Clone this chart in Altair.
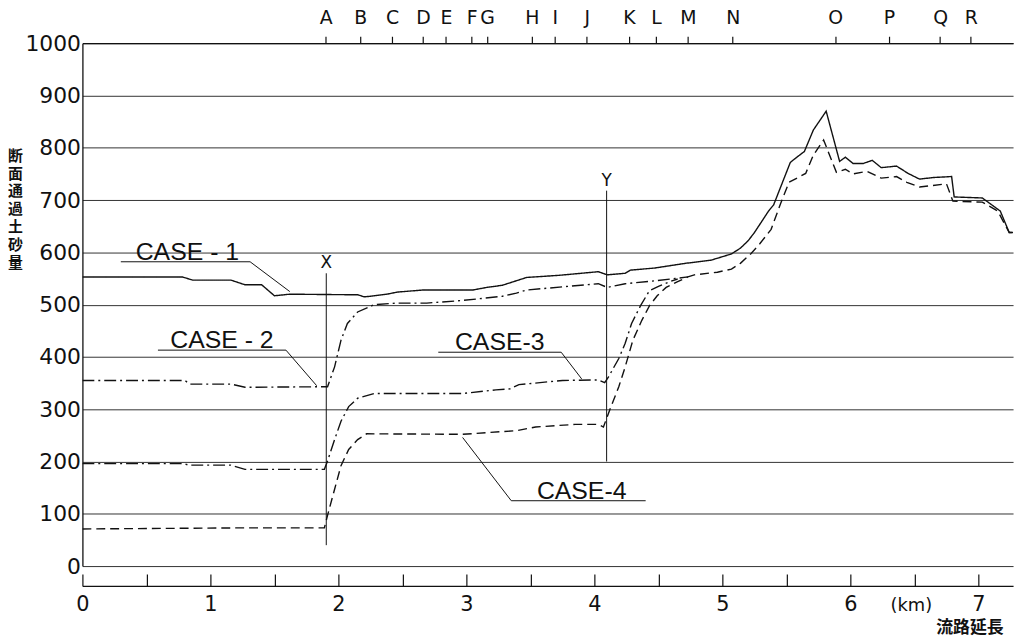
import altair as alt
import pandas as pd

# ---------------- data ----------------
case_names = ["CASE-1", "CASE-2", "CASE-3", "CASE-4"]

km1 = [0, 0.78, 0.86, 1.16, 1.27, 1.40, 1.50, 1.62, 2.07, 2.15, 2.20, 2.25, 2.38, 2.46,
       2.66, 3.05, 3.16, 3.28, 3.47, 3.72, 4.03, 4.10, 4.24, 4.28, 4.47, 4.71, 4.91,
       5.07, 5.14, 5.20, 5.25, 5.36, 5.40, 5.53, 5.56, 5.64, 5.71, 5.81, 5.915, 5.96,
       6.02, 6.10, 6.17, 6.24, 6.36, 6.45, 6.54, 6.64, 6.79, 6.81, 7.03, 7.17, 7.24, 7.27]
v1 = [553, 553, 547, 547, 538, 538, 517, 520, 519, 519, 515, 516, 520, 524,
      528, 528, 533, 537, 552, 556, 563, 557, 560, 566, 570, 579, 585,
      597, 608, 622, 638, 679, 691, 772, 778, 793, 834, 870, 774, 782,
      770, 770, 776, 762, 765, 751, 740, 743, 745, 706, 704, 679, 638, 638]

km2 = [0, 0.80, 0.84, 1.16, 1.27, 1.89, 1.915, 1.97, 2.02, 2.07, 2.15, 2.28, 2.46,
       2.69, 2.97, 3.28, 3.39, 3.47, 4.03, 4.10, 4.24, 4.45, 4.63, 4.73]
v2 = [355, 355, 348, 348, 342, 343, 343, 381, 432, 464, 486, 500, 503,
      503, 508, 516, 522, 528, 540, 533, 540, 545, 550, 553]

km3 = [0, 0.79, 0.83, 1.16, 1.27, 1.89, 1.915, 1.97, 2.02, 2.08, 2.15, 2.28, 2.97,
       3.23, 3.34, 3.41, 3.75, 4.03, 4.08, 4.11, 4.19, 4.24, 4.29, 4.36, 4.43, 4.50,
       4.60, 4.65]
v3 = [196, 196, 193, 193, 185, 185, 201, 242, 277, 305, 321, 330, 330,
      337, 339, 347, 355, 356, 351, 362, 397, 426, 464, 498, 527, 535,
      545, 549]

km4 = [0, 1.20, 1.89, 1.915, 1.97, 2.02, 2.08, 2.15, 2.22, 2.97, 3.39, 3.54, 3.85,
       4.03, 4.07, 4.12, 4.19, 4.24, 4.30, 4.37, 4.43, 4.49, 4.56, 4.65, 4.73, 4.78,
       4.96, 5.07, 5.14, 5.22, 5.29, 5.38, 5.455, 5.52, 5.65, 5.71, 5.79, 5.89, 5.96,
       6.02, 6.13, 6.24, 6.36, 6.44, 6.54, 6.75, 6.80, 7.03, 7.15, 7.24, 7.27]
v4 = [71, 73, 73, 97, 147, 192, 223, 242, 253, 252, 259, 266, 271,
      271, 266, 299, 343, 381, 432, 470, 498, 517, 533, 544, 553, 557,
      562, 568, 579, 597, 616, 644, 694, 734, 751, 786, 815, 753, 759,
      750, 755, 742, 745, 734, 725, 731, 698, 696, 679, 638, 638]

# section markers on the top axis
letters = ["A", "B", "C", "D", "E", "F", "G", "H", "I", "J", "K", "L", "M", "N", "O", "P", "Q", "R"]
letter_km = [1.90, 2.17, 2.42, 2.66, 2.84, 3.04, 3.16, 3.51, 3.69, 3.94, 4.27, 4.48, 4.73,
             5.08, 5.88, 6.30, 6.70, 6.94]

# vertical markers X, Y
mark_names = ["X", "Y"]
mark_km = [1.905, 4.095]
mark_lo = [40, 200]
mark_hi = [560, 718]

# case labels
label_text = ["CASE - 1", "CASE - 2", "CASE-3", "CASE-4"]
label_km = [0.82, 1.09, 3.26, 3.90]
label_v = [582, 413, 409, 125]
# underline and leader segments
seg_x = [0.30, 1.31, 0.59, 1.59, 2.78, 3.74, 3.35, 3.35]
seg_x2 = [1.31, 1.62, 1.59, 1.83, 3.74, 3.90, 4.40, 2.97]
seg_y = [582, 582, 413, 413, 409, 409, 125, 125]
seg_y2 = [582, 525, 413, 345, 409, 358, 125, 246]

x_ticks = [0, 1, 2, 3, 4, 5, 6, 7]
x_minor = [0, 0.5, 1, 1.5, 2, 2.5, 3, 3.5, 4, 4.5, 5, 5.5, 6, 6.5, 7]
y_ticks = [0, 100, 200, 300, 400, 500, 600, 700, 800, 900, 1000]

# ---------------- tables ----------------
frames = []
for name, kk, vv in zip(case_names, [km1, km2, km3, km4], [v1, v2, v3, v4]):
    frames.append(pd.DataFrame({"km": kk, "v": vv, "case": name}))
lines_df = pd.concat(frames, ignore_index=True)

marks_df = pd.DataFrame({"name": mark_names, "x": mark_km, "lo": mark_lo, "hi": mark_hi})
labels_df = pd.DataFrame({"text": label_text, "x": label_km, "y": label_v})
seg_df = pd.DataFrame({"x": seg_x, "x2": seg_x2, "y": seg_y, "y2": seg_y2})
top_df = pd.DataFrame({"x": letter_km, "t": letters})
grid_df = pd.DataFrame({"v": y_ticks})

xscale = alt.Scale(domain=[0, 7.27], nice=False, zero=False)
yscale = alt.Scale(domain=[0, 1000], nice=False)

FONT = "DejaVu Sans"
INK = "#111111"

y_axis = alt.Axis(
    values=y_ticks, format="d", grid=True, gridColor="#333333", gridWidth=1, gridOpacity=1,
    ticks=False, domain=True, domainColor=INK, domainWidth=1.3,
    labelFont=FONT, labelFontSize=22, labelColor=INK, labelPadding=2,
    title=["断", "面", "通", "過", "土", "砂", "量"], titleAngle=0,
    titleX=-68, titleY=106, titleBaseline="top", titleAlign="center",
    titleFont="Noto Sans CJK JP", titleFontSize=15, titleFontWeight="bold",
    titleLineHeight=18, titleColor=INK,
)

x_axis_labels = alt.Axis(
    orient="bottom", offset=20, values=x_ticks, format="d", ticks=False,
    domain=True, domainColor=INK, domainWidth=1.3, grid=False, labelFlush=False,
    labelFont=FONT, labelFontSize=21, labelColor=INK, labelPadding=8,
    title="流路延長", titleX=894, titleY=42, titleAlign="center", titleBaseline="middle",
    titleFont="Noto Sans CJK JP", titleFontSize=17, titleFontWeight="bold", titleColor=INK,
)

x_axis_ticks = alt.Axis(
    orient="bottom", offset=8, values=x_minor, tickSize=12, tickColor=INK, tickWidth=1.2,
    labels=False, domain=False, grid=False,
    title="(km)", titleX=835, titleY=32, titleAlign="center", titleBaseline="middle",
    titleFont=FONT, titleFontSize=18, titleFontWeight="normal", titleColor=INK,
)

letter_expr = "[" + ",".join("'%s'" % l for l in letters) + "][indexof([" + \
    ",".join(repr(k) for k in letter_km) + "], datum.value)]"

x_axis_top = alt.Axis(
    orient="top", values=letter_km, labelExpr=letter_expr, tickSize=7, tickColor=INK,
    tickWidth=1.2, domain=True, domainColor=INK, domainWidth=1.3, grid=False,
    labelFont=FONT, labelFontSize=19, labelColor=INK, labelPadding=9, title=None,
    labelFlush=False,
)

# y axis with grid lives on its own layer
y_layer = alt.Chart(grid_df).mark_tick(opacity=0).encode(
    y=alt.Y("v:Q", scale=yscale, axis=y_axis),
)

lines = alt.Chart(lines_df).mark_line(color=INK, strokeWidth=1.4, clip=True).encode(
    x=alt.X("km:Q", scale=xscale, axis=x_axis_labels),
    y=alt.Y("v:Q", scale=yscale, axis=None),
    detail="case:N",
    strokeDash=alt.StrokeDash(
        "case:N",
        scale=alt.Scale(domain=case_names,
                        range=[[1, 0], [12, 4, 2, 4], [12, 4, 2, 4], [9, 5]]),
        legend=None,
    ),
)

verticals = alt.Chart(marks_df).mark_rule(color=INK, strokeWidth=1).encode(
    x=alt.X("x:Q", scale=xscale, axis=x_axis_ticks),
    y=alt.Y("lo:Q", scale=yscale, axis=None),
    y2="hi:Q",
)

vert_text = alt.Chart(marks_df).mark_text(
    font=FONT, fontSize=17, color=INK, baseline="bottom", align="center", dy=-1
).encode(
    x=alt.X("x:Q", scale=xscale, axis=None),
    y=alt.Y("hi:Q", scale=yscale, axis=None),
    text="name:N",
)

segments = alt.Chart(seg_df).mark_rule(color=INK, strokeWidth=1).encode(
    x=alt.X("x:Q", scale=xscale, axis=None),
    x2="x2:Q",
    y=alt.Y("y:Q", scale=yscale, axis=None),
    y2="y2:Q",
)

case_text = alt.Chart(labels_df).mark_text(
    font="Liberation Sans", fontSize=25, color=INK, baseline="alphabetic", align="center", dy=-2
).encode(
    x=alt.X("x:Q", scale=xscale, axis=None),
    y=alt.Y("y:Q", scale=yscale, axis=None),
    text="text:N",
)

top = alt.Chart(top_df).mark_point(opacity=0).encode(
    x=alt.X("x:Q", scale=xscale, axis=x_axis_top),
    y=alt.value(0),
)

chart = alt.layer(y_layer, lines, verticals, vert_text, segments, case_text, top).resolve_axis(
    x="independent", y="independent"
).properties(
    width=938, height=527,
    autosize=alt.AutoSizeParams(type="none"),
    padding={"left": 75, "top": 33, "right": 8, "bottom": 70},
    background="white",
).configure_view(stroke=None)

chart.save("out.html", embed_options={"renderer": "svg", "actions": False})
